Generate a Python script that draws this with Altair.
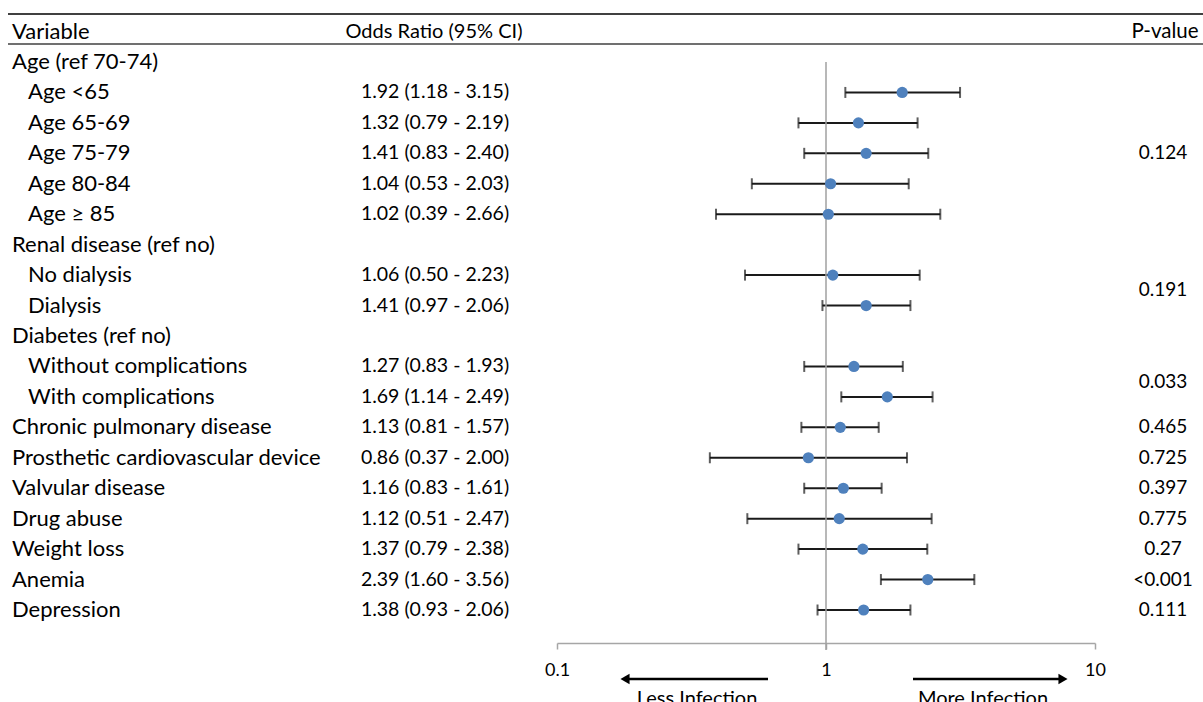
import altair as alt
import pandas as pd

variables = ["Age (ref 70-74)", "Age <65", "Age 65-69", "Age 75-79", "Age 80-84", "Age \u2265 85",
             "Renal disease (ref no)", "No dialysis", "Dialysis",
             "Diabetes (ref no)", "Without complications", "With complications",
             "Chronic pulmonary disease", "Prosthetic cardiovascular device", "Valvular disease",
             "Drug abuse", "Weight loss", "Anemia", "Depression"]
indent = [0, 1, 1, 1, 1, 1, 0, 1, 1, 0, 1, 1, 0, 0, 0, 0, 0, 0, 0]
odds = [None, 1.92, 1.32, 1.41, 1.04, 1.02, None, 1.06, 1.41, None, 1.27, 1.69,
        1.13, 0.86, 1.16, 1.12, 1.37, 2.39, 1.38]
lower = [None, 1.18, 0.79, 0.83, 0.53, 0.39, None, 0.50, 0.97, None, 0.83, 1.14,
         0.81, 0.37, 0.83, 0.51, 0.79, 1.60, 0.93]
upper = [None, 3.15, 2.19, 2.40, 2.03, 2.66, None, 2.23, 2.06, None, 1.93, 2.49,
         1.57, 2.00, 1.61, 2.47, 2.38, 3.56, 2.06]
p_values = ["0.124", "0.191", "0.033", "0.465", "0.725", "0.397", "0.775", "0.27", "<0.001", "0.111"]
p_rows = [3, 7.5, 10.5, 12, 13, 14, 15, 16, 17, 18]
x_ticks = [0.1, 1, 10]

FONT = "Lato"

rows = pd.DataFrame({
    "row": list(range(len(variables))),
    "variable": variables,
    "indent": indent,
    "odds": odds,
    "lower": lower,
    "upper": upper,
})
rows["or_text"] = [
    "" if o is None or pd.isna(o) else f"{o:.2f} ({l:.2f} - {u:.2f})"
    for o, l, u in zip(odds, lower, upper)
]
est = rows.dropna(subset=["odds"])
pdf = pd.DataFrame({"row": p_rows, "p": p_values})

xscale = alt.Scale(type="log", domain=[0.1, 10], range=[557, 1095])
yscale = alt.Scale(domain=[0, 18], range=[62, 610])

base_est = alt.Chart(est)

xaxis = alt.Axis(values=x_ticks, title=None, grid=False, labelFlush=False,
                 labelFont=FONT, labelFontSize=18, labelColor="black",
                 tickSize=6, tickColor="#A6A6A6", tickWidth=1.5,
                 domainColor="#A6A6A6", domainWidth=1.5, labelPadding=12,
                 labelExpr="datum.value < 0.5 ? '0.1' : datum.value < 5 ? '1' : '10'")

ci = base_est.mark_rule(color="#1a1a1a", strokeWidth=2).encode(
    x=alt.X("lower:Q", scale=xscale, axis=xaxis),
    x2="upper:Q",
    y=alt.Y("row:Q", scale=yscale, axis=None),
)
cap_lo = base_est.mark_tick(color="#1a1a1a", orient="vertical", size=11, thickness=2).encode(
    x="lower:Q", y="row:Q")
cap_hi = base_est.mark_tick(color="#1a1a1a", orient="vertical", size=11, thickness=2).encode(
    x="upper:Q", y="row:Q")
dots = base_est.mark_circle(color="#4F81BD", opacity=1, size=125).encode(
    x="odds:Q", y="row:Q")

ref_line = alt.Chart(pd.DataFrame({"v": [1]})).mark_rule(color="#A0A0A0", strokeWidth=1.5).encode(
    x="v:Q", y=alt.value(62), y2=alt.value(650))

def txt(fs):
    return dict(font=FONT, fontSize=fs, color="black", baseline="middle")

var_main = alt.Chart(rows).transform_filter("datum.indent == 0").mark_text(align="left", **txt(22)).encode(
    x=alt.value(12), y="row:Q", text="variable:N")
var_sub = alt.Chart(rows).transform_filter("datum.indent == 1").mark_text(align="left", **txt(22)).encode(
    x=alt.value(28), y="row:Q", text="variable:N")
or_col = alt.Chart(est).mark_text(align="center", **txt(19.5)).encode(
    x=alt.value(435), y="row:Q", text="or_text:N")
p_col = alt.Chart(pdf).mark_text(align="center", **txt(19)).encode(
    x=alt.value(1163), y="row:Q", text="p:N")

hdr = pd.DataFrame({"label": ["Variable", "Odds Ratio (95% CI)", "P-value"]})
h1 = alt.Chart(hdr).transform_filter("datum.label == 'Variable'").mark_text(align="left", **txt(22)).encode(
    x=alt.value(12), y=alt.value(32), text="label:N")
h2 = alt.Chart(hdr).transform_filter("datum.label == 'Odds Ratio (95% CI)'").mark_text(align="center", **txt(20)).encode(
    x=alt.value(434), y=alt.value(32), text="label:N")
h3 = alt.Chart(hdr).transform_filter("datum.label == 'P-value'").mark_text(align="center", **txt(20.5)).encode(
    x=alt.value(1165), y=alt.value(32), text="label:N")

line_top = alt.Chart(hdr).transform_filter("datum.label == 'Variable'").mark_rule(color="#404040", strokeWidth=2).encode(
    x=alt.value(8), x2=alt.value(1203), y=alt.value(14))
line_hdr = alt.Chart(hdr).transform_filter("datum.label == 'Variable'").mark_rule(color="#404040", strokeWidth=1.5).encode(
    x=alt.value(8), x2=alt.value(1203), y=alt.value(44))

arrows = pd.DataFrame({"label": ["Less Infection", "More Infection"]})
shaft_l = alt.Chart(arrows).transform_filter("datum.label == 'Less Infection'").mark_rule(color="black", strokeWidth=2.5).encode(
    x=alt.value(628), x2=alt.value(768), y=alt.value(679))
head_l = alt.Chart(arrows).transform_filter("datum.label == 'Less Infection'").mark_point(
    shape="triangle-left", filled=True, color="black", opacity=1, size=110).encode(
    x=alt.value(625), y=alt.value(679))
shaft_r = alt.Chart(arrows).transform_filter("datum.label == 'More Infection'").mark_rule(color="black", strokeWidth=2.5).encode(
    x=alt.value(913), x2=alt.value(1060), y=alt.value(679))
head_r = alt.Chart(arrows).transform_filter("datum.label == 'More Infection'").mark_point(
    shape="triangle-right", filled=True, color="black", opacity=1, size=110).encode(
    x=alt.value(1063), y=alt.value(679))
lab_l = alt.Chart(arrows).transform_filter("datum.label == 'Less Infection'").mark_text(
    font=FONT, fontSize=20, color="black", align="center", baseline="alphabetic").encode(
    x=alt.value(697), y=alt.value(705), text="label:N")
lab_r = alt.Chart(arrows).transform_filter("datum.label == 'More Infection'").mark_text(
    font=FONT, fontSize=20, color="black", align="center", baseline="alphabetic").encode(
    x=alt.value(983), y=alt.value(705), text="label:N")

chart = alt.layer(
    ci, ref_line, cap_lo, cap_hi, dots,
    var_main, var_sub, or_col, p_col, h1, h2, h3, line_top, line_hdr,
    shaft_l, head_l, shaft_r, head_r, lab_l, lab_r,
).properties(
    width=1203, height=643,
    background="white",
    autosize=alt.AutoSizeParams(type="none"),
    padding={"left": 0, "top": 0, "right": 0, "bottom": 59},
).configure_view(strokeWidth=0, stroke=None)

chart.save("out.html", embed_options={"renderer": "svg", "actions": False})
